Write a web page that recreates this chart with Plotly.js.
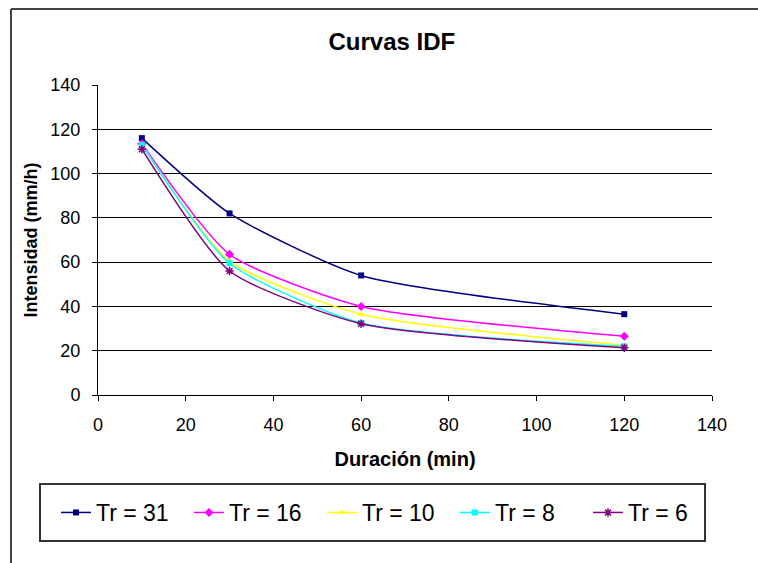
<!DOCTYPE html>
<html>
<head>
<meta charset="utf-8">
<script src="https://cdn.plot.ly/plotly-3.0.1.min.js"></script>
<style>
html,body{margin:0;padding:0;background:#fff;}
#chart{width:758px;height:563px;}
</style>
</head>
<body>
<div id="chart"></div>
<script>
// Data
var durations = [10, 30, 60, 120];
var seriesNames = ["Tr = 31", "Tr = 16", "Tr = 10", "Tr = 8", "Tr = 6"];
var tr31 = [116, 82, 54, 36.5];
var tr16 = [113.5, 63.5, 40, 26.5];
var tr10 = [113, 60.5, 36.5, 22.5];
var tr8 = [113, 59.5, 32.5, 22];
var tr6 = [111, 56, 32.2, 21.3];
var xTicks = [0, 20, 40, 60, 80, 100, 120, 140];
var yTicks = [0, 20, 40, 60, 80, 100, 120, 140];

var seriesValues = [tr31, tr16, tr10, tr8, tr6];
var colors = ["#000080", "#FF00FF", "#FFFF00", "#00FFFF", "#800080"];
var symbols = ["square", "diamond", "triangle-up", "square", "asterisk-open"];
var sizes = [6, 7, 6, 6, 7];

var FONT = "Liberation Sans, Arial, sans-serif";

var traces = seriesValues.map(function (vals, i) {
  return {
    x: durations,
    y: vals,
    name: seriesNames[i],
    type: "scatter",
    mode: "lines+markers",
    line: {color: colors[i], width: 1.5, shape: "spline", smoothing: 0.6},
    marker: {symbol: symbols[i], size: sizes[i], color: colors[i],
             line: {color: colors[i], width: i === 4 ? 1.5 : 0}}
  };
});

// Geometry (pixels) of plot area
var L = 98, R = 712, T = 85, B = 395, W = 758, H = 563;
function px(x) { return (x - L) / (R - L); }
function py(y) { return (B - y) / (B - T); }

var layout = {
  width: W, height: H,
  margin: {l: L, r: W - R, t: T, b: H - B, pad: 0},
  paper_bgcolor: "#ffffff",
  plot_bgcolor: "#ffffff",
  font: {family: FONT, color: "#000000", size: 18},
  title: {text: "<b>Curvas IDF</b>", font: {family: FONT, size: 24, color: "#000"},
          x: 0.517, xanchor: "center", y: 1 - 42 / H, yanchor: "middle", yref: "container"},
  xaxis: {
    range: [0, 140], tickvals: xTicks, ticktext: xTicks.map(String),
    showgrid: false, zeroline: false, showline: true, linecolor: "#000", linewidth: 1,
    ticks: "outside", ticklen: 5, tickcolor: "#000", tickwidth: 1,
    ticklabelstandoff: 8,
    tickfont: {family: FONT, size: 18},
    title: {text: "<b>Duración (min)</b>", font: {family: FONT, size: 20}, standoff: 18}
  },
  yaxis: {
    range: [0, 140], tickvals: yTicks, ticktext: yTicks.map(String),
    showgrid: true, gridcolor: "#000", gridwidth: 1,
    zeroline: false, showline: true, linecolor: "#000", linewidth: 1,
    ticks: "outside", ticklen: 5, tickcolor: "#000", tickwidth: 1,
    ticklabelstandoff: 8,
    tickfont: {family: FONT, size: 18},
    title: {text: "<b>Intensidad (mm/h)</b>", font: {family: FONT, size: 18}, standoff: 8}
  },
  showlegend: true,
  legend: {
    orientation: "h", x: px(56), xanchor: "left", y: py(512.5), yanchor: "middle",
    borderwidth: 0, bgcolor: "rgba(0,0,0,0)",
    font: {family: FONT, size: 23}, itemwidth: 30, tracegroupgap: 0,
    entrywidth: 88, entrywidthmode: "pixels"
  },
  shapes: [
    {type: "line", xref: "paper", yref: "paper", x0: px(11), x1: px(760), y0: py(9), y1: py(9),
     line: {color: "#444", width: 2}},
    {type: "line", xref: "paper", yref: "paper", x0: px(11), x1: px(11), y0: py(9), y1: py(565),
     line: {color: "#444", width: 2}},
    {type: "rect", xref: "paper", yref: "paper", x0: px(40), x1: px(705), y0: py(484), y1: py(541),
     line: {color: "#333", width: 2}, fillcolor: "rgba(0,0,0,0)", layer: "above"}
  ]
};

Plotly.newPlot("chart", traces, layout, {displayModeBar: false, staticPlot: true});
</script>
</body>
</html>
